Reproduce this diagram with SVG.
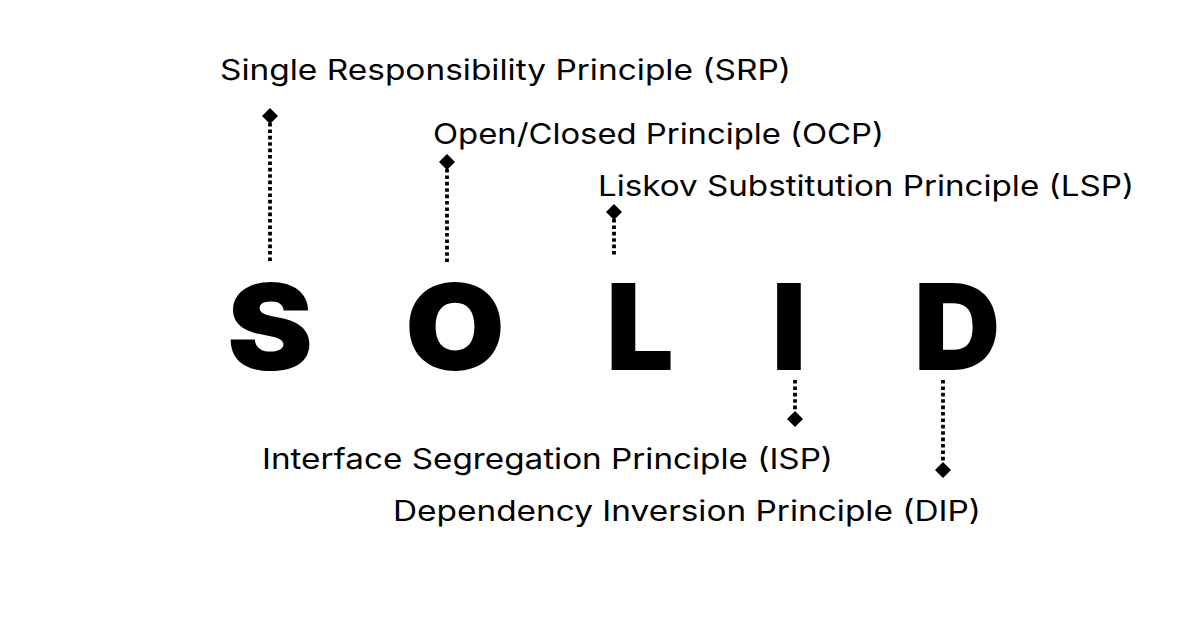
<svg xmlns="http://www.w3.org/2000/svg" width="1200" height="630" viewBox="0 0 1200 630">
  <style>
    .label { font-family: Inter, "Open Sans", "Liberation Sans", sans-serif; font-weight: 400; font-size: 28.5px; fill: #000; }
    .big { font-family: Inter, Lato, "Liberation Sans", sans-serif; font-weight: 900; font-size: 120px; fill: #000; text-anchor: middle; }
    .dots { stroke: #000; stroke-width: 3.8; stroke-dasharray: 3.6 2.8; fill: none; }
    .tip { fill: #000; }
  </style>
  <defs>
    <path id="diamond" d="M0,-8 L8,0 L0,8 L-8,0 Z"/>
  </defs>
  <rect width="1200" height="630" fill="#fff"/>

  <g id="letters">
    <text class="big" x="270" y="370" textLength="86" lengthAdjust="spacingAndGlyphs">S</text>
    <text class="big" x="455" y="370" textLength="100" lengthAdjust="spacingAndGlyphs">O</text>
    <text class="big" x="640" y="370">L</text>
    <text class="big" x="789" y="370">I</text>
    <text class="big" x="957" y="370">D</text>
  </g>

  <g id="connectors">
    <line class="dots" x1="270" y1="123" x2="270" y2="262"/>
    <use class="tip" href="#diamond" x="270" y="116"/>
    <line class="dots" x1="447" y1="169" x2="447" y2="262"/>
    <use class="tip" href="#diamond" x="447" y="162"/>
    <line class="dots" x1="614" y1="219" x2="614" y2="255"/>
    <use class="tip" href="#diamond" x="614" y="212"/>
    <line class="dots" x1="795" y1="380" x2="795" y2="412"/>
    <use class="tip" href="#diamond" x="795" y="419"/>
    <line class="dots" x1="943" y1="380" x2="943" y2="463"/>
    <use class="tip" href="#diamond" x="943" y="470"/>
  </g>

  <g id="node-srp">
    <text class="label" x="220" y="80" textLength="571" lengthAdjust="spacingAndGlyphs">Single Responsibility Principle (SRP)</text>
  </g>
  <g id="node-ocp">
    <text class="label" x="433" y="144" textLength="451" lengthAdjust="spacingAndGlyphs">Open/Closed Principle (OCP)</text>
  </g>
  <g id="node-lsp">
    <text class="label" x="598" y="196" textLength="536" lengthAdjust="spacingAndGlyphs">Liskov Substitution Principle (LSP)</text>
  </g>
  <g id="node-isp">
    <text class="label" x="262" y="469" textLength="571" lengthAdjust="spacingAndGlyphs">Interface Segregation Principle (ISP)</text>
  </g>
  <g id="node-dip">
    <text class="label" x="393" y="521" textLength="588" lengthAdjust="spacingAndGlyphs">Dependency Inversion Principle (DIP)</text>
  </g>
</svg>
